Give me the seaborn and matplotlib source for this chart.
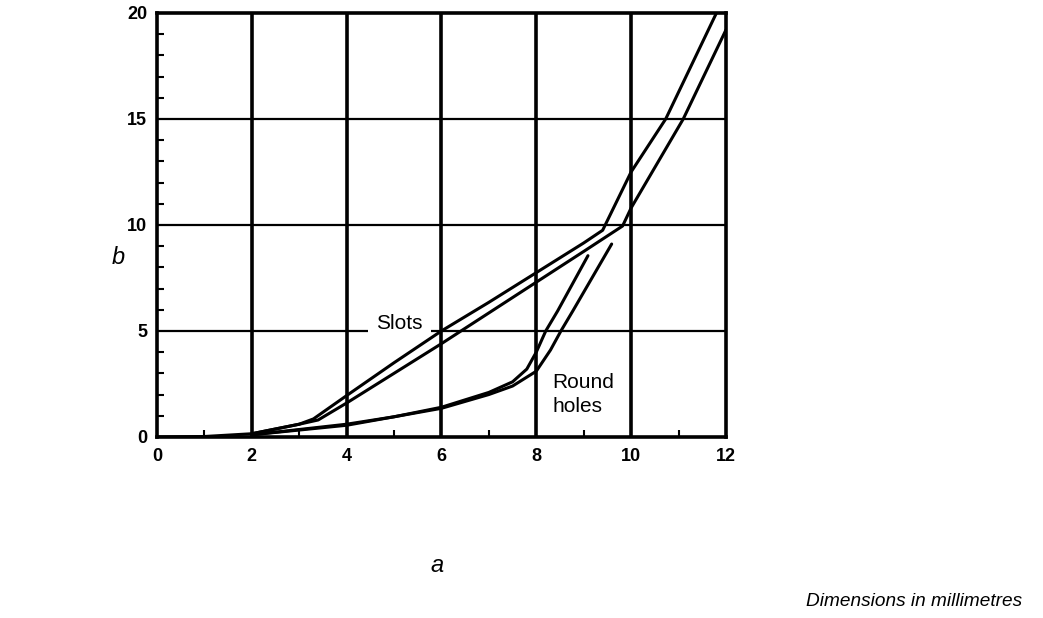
import matplotlib
matplotlib.use("Agg")
import numpy as np
import pandas as pd
import seaborn as sns
import matplotlib.pyplot as plt
from matplotlib.ticker import MultipleLocator

# curve data (a in mm, b in mm)
slots_up_a = [0, 1, 2, 3, 3.3, 4, 5, 6, 7, 8, 9, 9.4, 10, 10.73, 11.8]
slots_up_b = [0, 0.02, 0.15, 0.6, 0.85, 1.95, 3.5, 5.0, 6.35, 7.75, 9.15, 9.75, 12.5, 15, 20]
slots_lo_a = [2, 3, 3.4, 4, 5, 6, 7, 8, 9, 9.82, 10, 11.1, 12]
slots_lo_b = [0.15, 0.6, 0.8, 1.6, 3.0, 4.4, 5.85, 7.3, 8.75, 9.95, 10.8, 15, 19.2]
round_up_a = [2, 3, 4, 5, 6, 7, 7.5, 7.8, 8, 8.2, 8.45, 9.09]
round_up_b = [0.1, 0.35, 0.6, 0.95, 1.4, 2.1, 2.6, 3.2, 4.0, 5.0, 5.94, 8.55]
round_lo_a = [2, 4, 6, 7, 7.5, 8, 8.3, 8.52, 8.77, 9.59]
round_lo_b = [0.1, 0.55, 1.35, 2.0, 2.4, 3.1, 4.1, 5.0, 5.94, 9.1]

x_ticks = [0, 2, 4, 6, 8, 10, 12]
y_ticks = [0, 5, 10, 15, 20]

sns.set_style("white")
plt.rcParams['font.family'] = ['Liberation Sans', 'DejaVu Sans']
plt.rcParams['text.color'] = 'black'
plt.rcParams['xtick.color'] = 'black'
plt.rcParams['ytick.color'] = 'black'

fig = plt.figure(figsize=(10.43, 6.18), dpi=100)
ax = fig.add_axes([0.1505, 0.293, 0.5455, 0.686])

# grid lines like the drawing
for xv in x_ticks[1:-1]:
    ax.axvline(xv, color='black', lw=2.6, zorder=1)
for yv in y_ticks[1:-1]:
    ax.axhline(yv, color='black', lw=1.6, zorder=1)

curves = [(slots_up_a, slots_up_b), (slots_lo_a, slots_lo_b),
          (round_up_a, round_up_b), (round_lo_a, round_lo_b)]
for ca, cb in curves:
    sns.lineplot(x=ca, y=cb, ax=ax, color='black', lw=2.2, sort=False, zorder=2)

ax.set_xlim(0, 12)
ax.set_ylim(0, 20)
ax.set_xticks(x_ticks)
ax.set_yticks(y_ticks)
ax.xaxis.set_minor_locator(MultipleLocator(1))
ax.yaxis.set_minor_locator(MultipleLocator(1))
ax.tick_params(which='major', length=0, labelsize=13, labelcolor='black')
ax.tick_params(axis='x', which='major', pad=8)
ax.tick_params(axis='y', which='major', pad=7)
ax.tick_params(which='minor', direction='in', length=5, width=1.5, color='black',
               bottom=True, left=True, top=False, right=False)
for lab in ax.get_xticklabels() + ax.get_yticklabels():
    lab.set_fontweight('bold')
for sp in ax.spines.values():
    sp.set_linewidth(2.6)
    sp.set_color('black')

# white box breaks the 5 grid line, but stays under the curves
ax.text(5.12, 5.07, "Slots", fontsize=15, ha='center', va='baseline', zorder=1.5,
        bbox=dict(boxstyle='square,pad=0.4', facecolor='white', edgecolor='none'))
ax.text(8.34, 2.29, "Round", fontsize=15, ha='left', va='baseline', zorder=3)
ax.text(8.34, 1.19, "holes", fontsize=15, ha='left', va='baseline', zorder=3)

ax.set_xlabel("")
ax.set_ylabel("")
fig.text(0.113, 0.583, "b", fontsize=17, style='italic', ha='center', va='center')
fig.text(0.419, 0.085, "a", fontsize=17, style='italic', ha='center', va='center')
fig.text(0.98, 0.027, "Dimensions in millimetres", fontsize=13.7, style='italic',
         ha='right', va='center')

fig.savefig("out.png", dpi=100)
